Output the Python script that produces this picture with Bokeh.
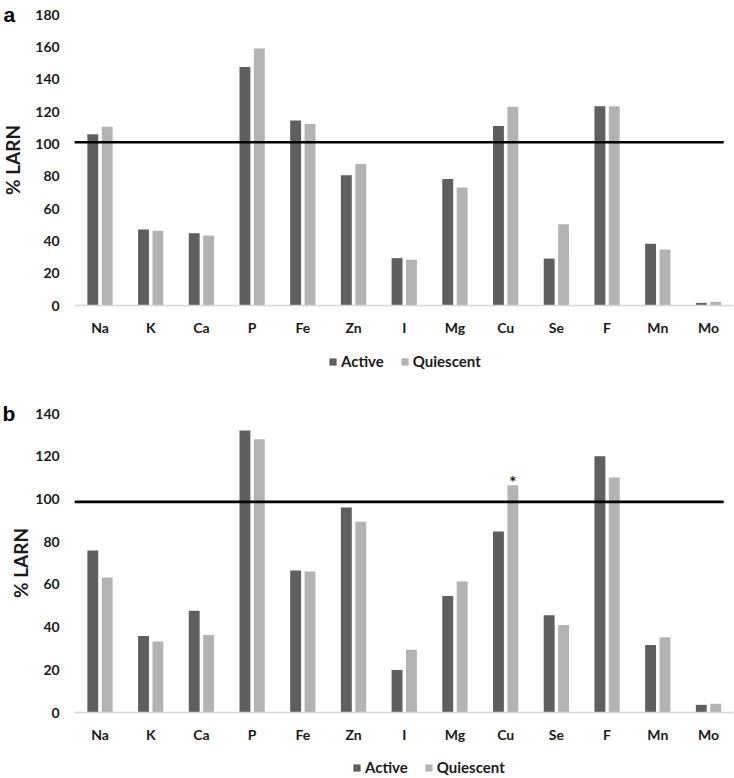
from bokeh.plotting import figure
from bokeh.models import (Range1d, Legend, LegendItem, Label,
                          ColumnDataSource, FixedTicker)
from bokeh.transform import dodge
from bokeh.layouts import column
from bokeh.core.properties import value
from bokeh.embed import file_html
from bokeh.resources import INLINE

# ---------------- data ----------------
nutrients = ["Na", "K", "Ca", "P", "Fe", "Zn", "I", "Mg", "Cu", "Se", "F", "Mn", "Mo"]

active_a = [106, 47, 44.7, 147.5, 114.5, 80.5, 29.3, 78.3, 111, 29, 123.3, 38.2, 1.6]
quiescent_a = [110.5, 46.3, 43.3, 159, 112.2, 87.5, 28.3, 73, 123, 50.3, 123.3, 34.6, 2.3]

active_b = [75.9, 35.8, 47.6, 132, 66.5, 96, 19.9, 54.6, 84.8, 45.5, 120, 31.6, 3.6]
quiescent_b = [63.2, 33.2, 36.3, 128, 66, 89.3, 29.4, 61.3, 106.4, 41, 110, 35.2, 4.1]

ref_a = 101
ref_b = 98.6
star_b = ["Cu"]
star_b_value = [106.4]

series = ["Active", "Quiescent"]
y_max_a, y_ticks_a = 180, list(range(0, 181, 20))
y_max_b, y_ticks_b = 140, list(range(0, 141, 20))

# ---------------- style / layout ----------------
DARK = "#5f5f5f"
LIGHT = "#b3b3b3"
TXT = "#1a1a1a"
FONT = "Lato"
W = 734
X_FIRST_PX, X_LAST_PX = 99.5, 708.0   # centre of first / last category (px)


def make_panel(letter, act, qui, ref, ymax, yticks, height, top_px, base_px,
               letter_xy, ylabel_standoff, legend_xy):
    n = len(nutrients)
    idx = list(range(n))
    src = ColumnDataSource(dict(x=idx, a=act, q=qui))

    # pixel layout -> ranges (frame covers the full canvas)
    ppc = (X_LAST_PX - X_FIRST_PX) / (n - 1)
    x0 = -X_FIRST_PX / ppc
    x1 = x0 + W / ppc
    ppu = (base_px - top_px) / ymax
    y1 = ymax + top_px / ppu
    y0 = -(height - base_px) / ppu

    p = figure(x_range=Range1d(x0, x1), y_range=Range1d(y0, y1),
               width=W, height=height, output_backend="svg",
               toolbar_location=None, min_border=0)
    p.outline_line_color = None
    p.xgrid.grid_line_color = None
    p.ygrid.grid_line_color = None

    r1 = p.vbar(x=dodge("x", -0.142), top="a", width=0.215,
                source=src, fill_color=DARK, line_color=None)
    r2 = p.vbar(x=dodge("x", 0.142), top="q", width=0.215,
                source=src, fill_color=LIGHT, line_color=None)

    p.segment(x0=[-0.5], x1=[n - 0.7], y0=[ref], y1=[ref], line_color="black",
              line_width=2.6)

    # x axis through y = 0
    xa = p.xaxis[0]
    xa.fixed_location = 0
    xa.bounds = (-0.5, n - 0.5)
    xa.ticker = FixedTicker(ticks=idx)
    xa.major_label_overrides = {i: s for i, s in enumerate(nutrients)}
    xa.axis_line_color = "#d6d6d6"
    xa.axis_line_width = 1.5
    xa.major_tick_line_color = None
    xa.minor_tick_line_color = None
    xa.major_tick_out = 0
    xa.major_tick_in = 0
    xa.major_label_text_font = FONT
    xa.major_label_text_font_style = "bold"
    xa.major_label_text_font_size = "14px"
    xa.major_label_text_color = TXT
    xa.major_label_standoff = 13

    # y axis at the left edge of the category area
    ya = p.yaxis[0]
    ya.fixed_location = -0.5
    ya.bounds = (0, ymax)
    ya.ticker = FixedTicker(ticks=yticks)
    ya.axis_line_color = None
    ya.major_tick_line_color = None
    ya.minor_tick_line_color = None
    ya.major_tick_out = 0
    ya.major_tick_in = 0
    ya.major_label_text_font = FONT
    ya.major_label_text_font_style = "bold"
    ya.major_label_text_font_size = "14px"
    ya.major_label_text_color = TXT
    ya.major_label_standoff = 15
    ya.axis_label = "% LARN"
    ya.axis_label_text_font = FONT
    ya.axis_label_text_font_style = "bold"
    ya.axis_label_text_font_size = "19px"
    ya.axis_label_text_color = TXT
    ya.axis_label_standoff = ylabel_standoff

    legend = Legend(items=[LegendItem(label=series[0], renderers=[r1]),
                           LegendItem(label=series[1], renderers=[r2])],
                    orientation="horizontal", location=legend_xy,
                    glyph_width=9, glyph_height=9, label_standoff=4,
                    label_height=18, spacing=16, padding=0, margin=0,
                    label_text_font=FONT, label_text_font_style="bold",
                    label_text_font_size="15px", label_text_color=TXT,
                    border_line_color=None, background_fill_alpha=0)
    p.add_layout(legend)

    lab = Label(x=letter_xy[0], y=height - letter_xy[1], x_units="screen",
                y_units="screen", text=letter, text_font="Liberation Sans",
                text_font_style="bold", text_font_size="21px", text_color="black",
                text_baseline="alphabetic", text_align="left")
    p.add_layout(lab)
    return p


pa = make_panel("a", active_a, quiescent_a, ref_a, y_max_a, y_ticks_a,
                height=388, top_px=14, base_px=305, letter_xy=(3, 14),
                ylabel_standoff=8, legend_xy=(328, 18))
pb = make_panel("b", active_b, quiescent_b, ref_b, y_max_b, y_ticks_b,
                height=389, top_px=25, base_px=324, letter_xy=(2, 25),
                ylabel_standoff=0, legend_xy=(352, 1))

star_src = ColumnDataSource(dict(x=[nutrients.index(c) for c in star_b],
                                 y=star_b_value))
pb.text(x=dodge("x", 0.142), y="y", text=value("*"),
        source=star_src, text_align="center", text_baseline="alphabetic",
        text_font=value(FONT), text_font_style="bold", text_font_size="17px",
        text_color=TXT, y_offset=-3)

layout = column(pa, pb, spacing=0)
open("out.html", "w").write(file_html(layout, INLINE))
